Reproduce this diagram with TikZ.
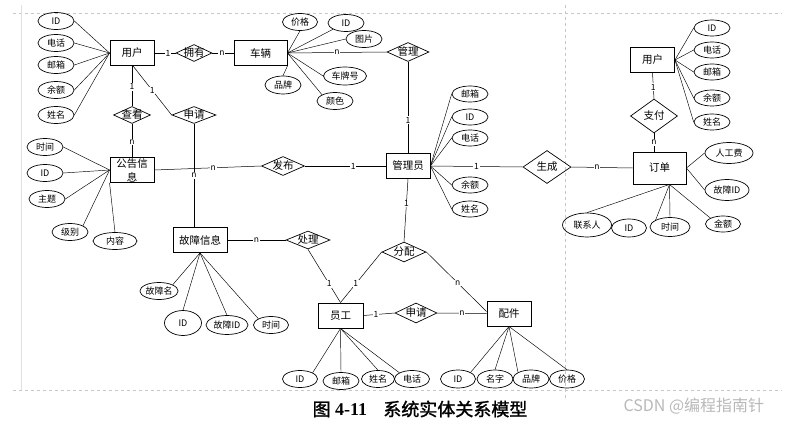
\documentclass[tikz,border=0pt]{standalone}
\usepackage{fontspec}
\setmainfont{Noto Sans CJK SC}
\newfontfamily\capfont[FakeBold=1.5]{Noto Sans CJK SC}
\newfontfamily\capnum{Liberation Serif}
\usetikzlibrary{shapes.geometric}
% diamond text that takes no room, so the diamond keeps its given size
\newcommand{\rtxt}[1]{\raisebox{-.38em}[0pt][0pt]{\makebox[0pt]{#1}}}

\begin{document}
\begin{tikzpicture}[x=1pt,y=-1pt,line width=0.5pt]
  \tikzstyle{entity}=[rectangle,draw,line width=0.9pt,inner sep=0pt,
    minimum width=44pt,minimum height=25pt,font=\fontsize{10.5}{12}\selectfont]
  \tikzstyle{attr}=[ellipse,draw,line width=0.7pt,inner sep=0pt,
    minimum width=36pt,minimum height=17pt,font=\fontsize{9}{10}\selectfont]
  \tikzstyle{rel}=[diamond,draw,line width=0.7pt,inner sep=0pt,
    minimum width=44pt,minimum height=18pt,font=\fontsize{10.5}{12}\selectfont]
  \tikzstyle{lbl}=[fill=white,inner sep=0.8pt,font=\fontsize{8.5}{9}\selectfont]
  \tikzstyle{frame}=[draw=black!22,dashed,line width=0.6pt]
  \useasboundingbox (0,0) rectangle (812,428);

  % frame
  \draw[frame] (13,13) -- (782,13);
  \draw[frame] (565,5) -- (565,398);
  \draw[frame] (13,390) -- (782,390);
  \draw[draw=black!12] (21,5) -- (21,390);

  % user, car
  \node[entity] (user) at (132,53) {用户};
  \node[attr] (uid) at (56,21) {ID};
  \node[attr] (utel) at (56,43) {电话};
  \node[attr] (umail) at (56,65) {邮箱};
  \node[attr] (ubal) at (56,90) {余额};
  \node[attr] (uname) at (56,115) {姓名};
  \node[rel,minimum width=36pt,minimum height=17pt] (own) at (194,53) {\rtxt{拥有}};
  \node[entity,minimum width=53pt] (car) at (260.5,53) {车辆};
  \node[attr,minimum width=35pt] (cprice) at (300,22) {价格};
  \node[attr] (cid) at (346,23) {ID};
  \node[attr] (cpic) at (364,39) {图片};
  \node[attr,minimum width=43pt,minimum height=18pt] (cplate) at (345,76) {车牌号};
  \node[attr] (ccolor) at (335,101) {颜色};
  \node[attr,minimum height=18pt] (cbrand) at (283,85) {品牌};
  \node[rel,minimum width=42pt,minimum height=19pt] (manage) at (408,52) {\rtxt{管理}};
  \node[rel,minimum width=37pt,minimum height=17pt] (view) at (132,115) {\rtxt{查看}};
  \node[rel,minimum width=44pt,minimum height=17pt] (apply) at (194,115) {\rtxt{申请}};

  % notice
  \node[entity,align=center,font=\fontsize{10.5}{14}\selectfont] (notice) at (132,170) {公告信\\息};
  \node[attr] (ntime) at (45,147) {时间};
  \node[attr] (nid) at (45,173) {ID};
  \node[attr] (ntopic) at (47,199) {主题};
  \node[attr] (nlevel) at (70,232) {级别};
  \node[attr,minimum width=44pt] (ncontent) at (115,241) {内容};
  \node[rel,minimum width=43pt,minimum height=19pt] (publish) at (283,166) {\rtxt{发布}};

  % admin
  \node[entity] (admin) at (408,166) {管理员};
  \node[attr,minimum height=16pt] (amail) at (470,94) {邮箱};
  \node[attr,minimum height=16pt] (aid) at (470,117) {ID};
  \node[attr,minimum height=16pt] (atel) at (470,138) {电话};
  \node[attr,minimum height=16pt] (abal) at (470,185) {余额};
  \node[attr,minimum height=16pt] (aname) at (470,209) {姓名};
  \node[rel,minimum width=48pt,minimum height=33pt] (gen) at (547,167) {\rtxt{生成}};

  % order side
  \node[entity] (user2) at (652.5,60) {用户};
  \node[attr,minimum height=16pt] (vid) at (712,28) {ID};
  \node[attr,minimum height=16pt] (vtel) at (712,50) {电话};
  \node[attr,minimum height=16pt] (vmail) at (712,72) {邮箱};
  \node[attr,minimum height=16pt] (vbal) at (712,98) {余额};
  \node[attr,minimum height=16pt] (vname) at (712,122) {姓名};
  \node[rel,minimum width=47pt,minimum height=34pt] (pay) at (654,116) {\rtxt{支付}};
  \node[entity,minimum width=53pt,minimum height=32pt] (order) at (659.5,168) {订单};
  \node[attr,minimum width=48pt,minimum height=21pt] (olabor) at (729,153) {人工费};
  \node[attr,minimum width=44pt,minimum height=21pt] (ofault) at (727,190) {故障ID};
  \node[attr,minimum width=35pt,minimum height=16pt] (omoney) at (723,224) {金额};
  \node[attr,minimum width=40pt,minimum height=19pt] (otime) at (670,227) {时间};
  \node[attr,minimum width=35pt,minimum height=18pt] (oid) at (629,228) {ID};
  \node[attr,minimum width=49pt,minimum height=24pt] (ocontact) at (587,225) {联系人};

  % fault, staff, part
  \node[entity,minimum width=54pt] (fault) at (200,240) {故障信息};
  \node[attr,minimum width=38pt] (fname) at (159,291) {故障名};
  \node[attr,minimum width=37pt,minimum height=25pt] (fid) at (183,323) {ID};
  \node[attr,minimum width=42pt,minimum height=19pt] (ffid) at (227,325) {故障ID};
  \node[attr,minimum width=35pt] (ftime) at (271,325) {时间};
  \node[rel,minimum width=44pt,minimum height=18pt] (handle) at (308,240) {\rtxt{处理}};
  \node[rel,minimum width=44pt,minimum height=20pt] (assign) at (404,252) {\rtxt{分配}};
  \node[entity,minimum width=45pt] (staff) at (340.5,315.5) {员工};
  \node[rel,minimum width=42pt,minimum height=20pt] (apply2) at (416,313) {\rtxt{申请}};
  \node[entity] (part) at (509,313.5) {配件};
  \node[attr,minimum width=35pt] (sid) at (300,379) {ID};
  \node[attr] (smail) at (341,381) {邮箱};
  \node[attr,minimum width=33pt] (sname) at (378,379) {姓名};
  \node[attr,minimum width=35pt] (stel) at (412,379) {电话};
  \node[attr,minimum width=35pt,minimum height=18pt] (pid) at (458,379) {ID};
  \node[attr,minimum height=18pt] (pname) at (495,379) {名字};
  \node[attr,minimum height=18pt] (pbrand) at (531,379) {品牌};
  \node[attr,minimum width=35pt,minimum height=18pt] (pprice) at (567,379) {价格};

  % relations
  \draw
  (user.east) edge node[lbl,pos=.64]{1} (own.west)
  (own.east) edge node[lbl,pos=.45]{n} (car.west)
  (car.east) edge node[lbl,pos=.5]{n} (manage.west)
  (manage.south) edge node[lbl,pos=.64]{1} (admin.north)
  (user.south) edge node[lbl,pos=.52]{1} (view.north)
  (view.south) edge node[lbl,pos=.55]{n} (notice.north)
  ([xshift=1pt]user.south) edge node[lbl,pos=.5]{1} (apply.west)
  (apply.south) edge node[lbl,pos=.5]{n} (apply.south |- fault.north)
  (notice.east) edge node[lbl,pos=.55]{n} (publish.west)
  (publish.east) edge node[lbl,pos=.6]{1} (admin.west)
  (admin.east) edge node[lbl,pos=.5]{1} (gen.west)
  (gen.east) edge node[lbl,pos=.42]{n} (order.west)
  (user2.south) edge node[lbl,pos=.55]{1} (pay.north)
  (pay.south) edge node[lbl,pos=.5]{n} (pay.south |- order.north)
  (admin.south) edge node[lbl,pos=.39]{1} (assign.north)
  (assign.west) edge node[lbl,pos=.63]{1} (staff.north)
  (assign.east) edge node[lbl,pos=.52]{n} ([yshift=2pt]part.west)
  (fault.east) edge node[lbl,pos=.5]{n} (handle.west)
  (handle.south) edge node[lbl,pos=.65]{1} (staff.north)
  (staff.east) edge node[lbl,pos=.4]{1} (apply2.west)
  (apply2.east) edge node[lbl,pos=.5]{n} (part.west);

  % attributes
  \draw[line width=0.45pt] (user.west) edge (uid.east) edge (utel.east) edge (umail.east)
    edge (ubal.east) edge (uname.east);
  \draw[line width=0.45pt] (car.east) edge (cprice.south) edge (cid.south west) edge (cpic.west)
    edge (cplate.west) edge (ccolor.north west);
  \draw[line width=0.45pt] (car.south east) -- (cbrand.north);
  \draw[line width=0.45pt] (notice.west) edge (ntime.east) edge (nid.east) edge (ntopic.east)
    edge (nlevel.north east);
  \draw[line width=0.45pt] (notice.south west) -- (ncontent.north);
  \draw[line width=0.45pt] (admin.east) edge (amail.west) edge (aid.west) edge (atel.west)
    edge (abal.west) edge (aname.west);
  \draw[line width=0.45pt] (user2.east) edge (vid.west) edge (vtel.west) edge (vmail.west)
    edge (vbal.west) edge (vname.west);
  \draw[line width=0.45pt] (order.east) edge (olabor.west) edge (ofault.west);
  \draw[line width=0.45pt] ([xshift=10pt]order.south) edge (ocontact.north) edge (otime.north west)
    edge (otime.north) edge (omoney.north west);
  \draw[line width=0.45pt] (fault.south) edge (fname.north east) edge (fid.north)
    edge (ffid.north) edge (ftime.north west);
  \draw[line width=0.45pt] (staff.south) edge (sid.north east) edge (smail.north)
    edge (sname.north) edge (stel.north west);
  \draw[line width=0.45pt] (part.south) edge (pid.north east) edge (pname.north)
    edge (pbrand.north west) edge (pprice.north);

  % caption
  \node[font=\fontsize{18}{20}\selectfont] (caption) at (420,409)
    {{\capfont 图}\hspace{0.25em}{\capnum\bfseries 4-11}\hspace{0.9em}{\capfont 系统实体关系模型}};
  \node[anchor=west,text=black!28,font=\fontsize{16}{18}\selectfont] (mark) at (620,406)
    {CSDN @编程指南针};
\end{tikzpicture}
\end{document}
